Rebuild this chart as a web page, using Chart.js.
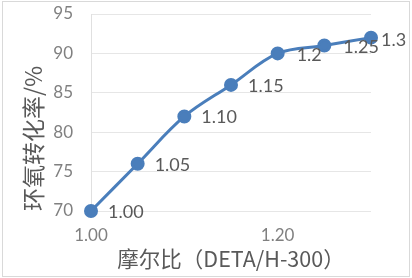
<!DOCTYPE html>
<html>
<head>
<meta charset="utf-8">
<script src="https://cdn.jsdelivr.net/npm/chart.js@4/dist/chart.umd.min.js"></script>
<style>
  html, body { margin: 0; padding: 0; background: #ffffff; }
  #wrap { position: relative; width: 412px; height: 278px; }
</style>
</head>
<body>
<div id="wrap"><canvas id="c" width="412" height="278"></canvas></div>
<script>
// ---- data ----
const molarRatio = [1.00, 1.05, 1.10, 1.15, 1.20, 1.25, 1.30];
const conversion = [70, 76, 82, 86, 90, 91, 92];
const pointLabels = ["1.00", "1.05", "1.10", "1.15", "1.2", "1.25", "1.3"];
const xTickValues = [1.00, 1.20];
const yTickValues = [70, 75, 80, 85, 90, 95];
const xTitle = "摩尔比（DETA/H-300）";
const yTitle = "环氧转化率/%";

// ---- styling (not data) ----
const labelNudgeX = [17, 17, 17, 17, 19, 19, 10];
const labelNudgeY = [1, 1, 1, 1, 2, 2, 3];

const frame = {
  id: 'frame',
  beforeDraw(chart) {
    const ctx = chart.ctx;
    ctx.save();
    ctx.fillStyle = '#ffffff';
    ctx.fillRect(0, 0, chart.width, chart.height);
    ctx.strokeStyle = '#d9d9d9';
    ctx.lineWidth = 1;
    ctx.strokeRect(2.5, 1.5, 407, 275);
    ctx.restore();
  }
};

const pointLabelPlugin = {
  id: 'pointLabelPlugin',
  afterDatasetsDraw(chart) {
    const ctx = chart.ctx;
    const meta = chart.getDatasetMeta(0);
    ctx.save();
    ctx.font = '18px Lato';
    ctx.fillStyle = '#595959';
    ctx.textAlign = 'left';
    ctx.textBaseline = 'middle';
    meta.data.forEach((pt, i) => {
      ctx.fillText(pointLabels[i], pt.x + labelNudgeX[i], pt.y + labelNudgeY[i]);
    });
    ctx.restore();
  }
};

new Chart(document.getElementById('c'), {
  type: 'line',
  data: {
    datasets: [{
      data: molarRatio.map((x, i) => ({ x: x, y: conversion[i] })),
      borderColor: '#4a7ebb',
      backgroundColor: '#4a7ebb',
      borderWidth: 3,
      pointRadius: 5.5,
      pointHoverRadius: 5.5,
      pointBackgroundColor: '#4a7ebb',
      pointBorderColor: '#4a7ebb',
      tension: 0.35,
      cubicInterpolationMode: 'default',
      fill: false,
      clip: false
    }]
  },
  options: {
    responsive: false,
    animation: false,
    events: [],
    layout: { padding: { left: 0, right: 41, top: 14, bottom: 0 } },
    plugins: { legend: { display: false }, tooltip: { enabled: false } },
    scales: {
      x: {
        type: 'linear',
        min: 1.0,
        max: 1.3,
        afterBuildTicks(scale) { scale.ticks = xTickValues.map(v => ({ value: v })); },
        afterFit(scale) { scale.height = 67; scale.paddingLeft = 0; scale.paddingRight = 0; },
        grid: { display: false, drawTicks: false },
        border: { display: false },
        ticks: {
          color: '#808080',
          font: { family: 'Lato', size: 17 },
          padding: 14,
          maxRotation: 0,
          callback: v => Number(v).toFixed(2)
        },
        title: {
          display: true,
          text: xTitle,
          color: '#595959',
          font: { family: '"Noto Sans CJK SC"', size: 21.5 },
          padding: { top: 0, bottom: 6 }
        }
      },
      y: {
        type: 'linear',
        min: 70,
        max: 95,
        afterBuildTicks(scale) { scale.ticks = yTickValues.map(v => ({ value: v })); },
        afterFit(scale) { scale.width = 91; scale.paddingTop = 0; scale.paddingBottom = 0; },
        grid: { color: '#e6e6e6', lineWidth: 1, drawTicks: false },
        border: { display: true, color: '#e0e0e0', width: 1 },
        ticks: {
          color: '#808080',
          font: { family: 'Lato', size: 17 },
          padding: 18
        },
        title: {
          display: true,
          text: yTitle,
          align: 'start',
          color: '#595959',
          font: { family: '"Noto Sans CJK SC"', size: 23 },
          padding: { top: 19, bottom: 0 }
        }
      }
    }
  },
  plugins: [frame, pointLabelPlugin]
});
</script>
</body>
</html>
